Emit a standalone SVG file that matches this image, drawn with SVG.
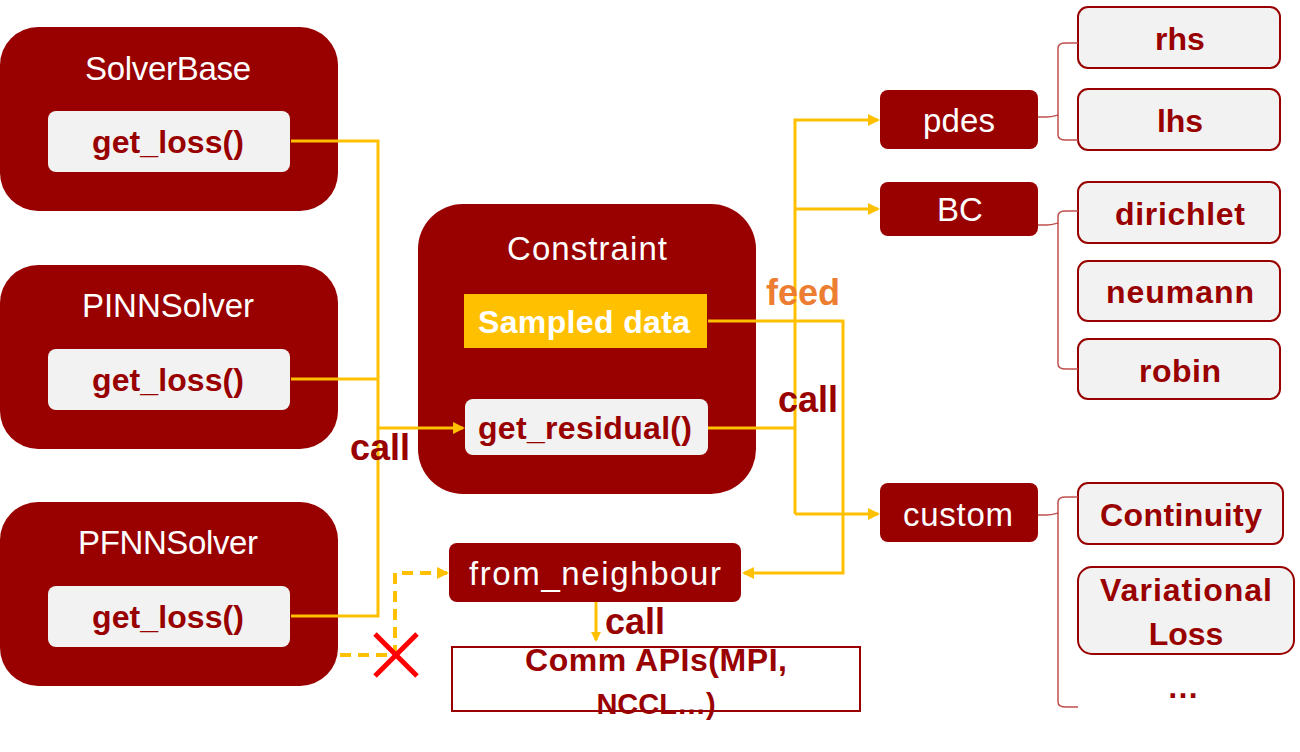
<svg xmlns="http://www.w3.org/2000/svg" width="1300" height="752" viewBox="0 0 1300 752">
<style>
.big{fill:#990000}
.inner{fill:#F2F2F2}
.leaf{fill:#F2F2F2;stroke:#990000;stroke-width:2}
.wt{fill:#ffffff;font-family:"Liberation Sans",Arial,sans-serif;font-size:33px;text-anchor:middle}
.rt{fill:#990000;font-family:"Liberation Sans",Arial,sans-serif;font-weight:bold;font-size:32px;text-anchor:middle}
.lbl{fill:#990000;font-family:"Liberation Sans",Arial,sans-serif;font-weight:bold;font-size:36px}
.ln{fill:none;stroke:#FFC000;stroke-width:3}
.dash{fill:none;stroke:#FFC000;stroke-width:4;stroke-dasharray:11 7}
.br{fill:none;stroke:#C0504D;stroke-width:1.5}
</style>
<defs>
<marker id="ah" markerWidth="10" markerHeight="10" refX="8" refY="5" orient="auto" markerUnits="userSpaceOnUse">
<path d="M0,0 L10,5 L0,10 z" fill="#FFC000"/>
</marker>
<marker id="ah2" markerWidth="12" markerHeight="12" refX="10" refY="6" orient="auto" markerUnits="userSpaceOnUse">
<path d="M0,0 L12,6 L0,12 z" fill="#FFC000"/>
</marker>
</defs>

<g id="solverbase">
<rect class="big" x="0" y="27" width="338" height="184" rx="38"/>
<text class="wt" x="168" y="80" textLength="166">SolverBase</text>
<rect class="inner" x="48" y="111" width="242" height="61" rx="8"/>
<text class="rt" x="168" y="153" textLength="152">get_loss()</text>
</g>
<g id="pinnsolver">
<rect class="big" x="0" y="265" width="338" height="184" rx="38"/>
<text class="wt" x="168" y="317" textLength="172">PINNSolver</text>
<rect class="inner" x="48" y="349" width="242" height="61" rx="8"/>
<text class="rt" x="168" y="391" textLength="152">get_loss()</text>
</g>
<g id="pfnnsolver">
<rect class="big" x="0" y="502" width="338" height="184" rx="38"/>
<text class="wt" x="168" y="554" textLength="180">PFNNSolver</text>
<rect class="inner" x="48" y="586" width="242" height="61" rx="8"/>
<text class="rt" x="168" y="628" textLength="152">get_loss()</text>
</g>

<g id="constraint">
<rect class="big" x="418" y="204" width="338" height="290" rx="45"/>
<text class="wt" x="587" y="260" textLength="160">Constraint</text>
<rect x="464" y="294" width="243" height="54" fill="#FFC000"/>
<text class="rt" x="584" y="333" style="fill:#ffffff" textLength="212">Sampled data</text>
<rect class="inner" x="465" y="399" width="243" height="56" rx="8"/>
<text class="rt" x="585" y="439" textLength="214">get_residual()</text>
</g>

<g id="from_neighbour">
<rect class="big" x="449" y="543" width="292" height="59" rx="8"/>
<text class="wt" x="595" y="585" textLength="252">from_neighbour</text>
</g>
<g id="comm">
<rect x="452" y="647" width="408" height="64" fill="#ffffff" stroke="#990000" stroke-width="2"/>
<text class="rt" x="656" y="671" textLength="262">Comm APIs(MPI,</text>
<text class="rt" x="656" y="714" style="font-size:29px">NCCL…)</text>
</g>

<g id="pdes">
<rect class="big" x="880" y="90" width="158" height="59" rx="8"/>
<text class="wt" x="959" y="132" textLength="72">pdes</text>
</g>
<g id="bc">
<rect class="big" x="880" y="182" width="158" height="54" rx="8"/>
<text class="wt" x="960" y="221">BC</text>
</g>
<g id="custom">
<rect class="big" x="880" y="483" width="158" height="59" rx="8"/>
<text class="wt" x="958" y="526" textLength="110">custom</text>
</g>

<g id="rhs"><rect class="leaf" x="1078" y="7" width="202" height="61" rx="10"/><text class="rt" x="1180" y="50">rhs</text></g>
<g id="lhs"><rect class="leaf" x="1078" y="89" width="202" height="61" rx="10"/><text class="rt" x="1180" y="132">lhs</text></g>
<g id="dirichlet"><rect class="leaf" x="1078" y="182" width="202" height="61" rx="10"/><text class="rt" x="1180" y="225" textLength="130">dirichlet</text></g>
<g id="neumann"><rect class="leaf" x="1078" y="261" width="202" height="60" rx="10"/><text class="rt" x="1180" y="303" textLength="148">neumann</text></g>
<g id="robin"><rect class="leaf" x="1078" y="339" width="202" height="60" rx="10"/><text class="rt" x="1180" y="382" textLength="82">robin</text></g>
<g id="continuity"><rect class="leaf" x="1078" y="483" width="205" height="61" rx="10"/><text class="rt" x="1181" y="526" textLength="162">Continuity</text></g>
<g id="variational"><rect class="leaf" x="1078" y="567" width="216" height="87" rx="14"/><text class="rt" x="1186" y="601" textLength="172">Variational</text><text class="rt" x="1186" y="645">Loss</text></g>
<g id="ellipsis"><text class="rt" x="1183" y="698">…</text></g>

<g id="connectors">
<path class="ln" d="M291,141 H378 V616 H291"/>
<path class="ln" d="M291,379 H378"/>
<path class="ln" d="M378,428 H463" marker-end="url(#ah2)"/>
<path class="ln" d="M708,428 H795"/>
<path class="ln" d="M795,514 V120 H878" marker-end="url(#ah2)"/>
<path class="ln" d="M795,209 H878" marker-end="url(#ah2)"/>
<path class="ln" d="M795,514 H878" marker-end="url(#ah2)"/>
<path class="ln" d="M708,321 H843 V573 H744" marker-end="url(#ah2)"/>
<path class="ln" d="M596,602 V640" marker-end="url(#ah)"/>
<path class="dash" d="M340,655 H395 V573 H447" marker-end="url(#ah2)"/>
<path class="br" d="M1038,117 C1052,117 1048,118 1058,115 V48 Q1058,43 1066,43 H1078"/>
<path class="br" d="M1058,115 V135 Q1058,140 1066,140 H1078"/>
<path class="br" d="M1038,225 C1052,225 1048,226 1058,223 V216 Q1058,211 1066,211 H1078"/>
<path class="br" d="M1058,223 V364 Q1058,369 1066,369 H1078"/>
<path class="br" d="M1038,515 C1052,515 1048,516 1058,513 V502 Q1058,497 1066,497 H1078"/>
<path class="br" d="M1058,513 V702 Q1058,707 1066,707 H1078"/>
<g id="xmark" stroke="#FF0000" stroke-width="5">
<line x1="375" y1="634" x2="417" y2="676"/>
<line x1="417" y1="634" x2="375" y2="676"/>
</g>
<text class="lbl" x="350" y="460">call</text>
<text class="lbl" x="778" y="412">call</text>
<text class="lbl" x="605" y="634">call</text>
<text class="lbl" x="766" y="305" style="fill:#ED7D31">feed</text>
</g>
</svg>
